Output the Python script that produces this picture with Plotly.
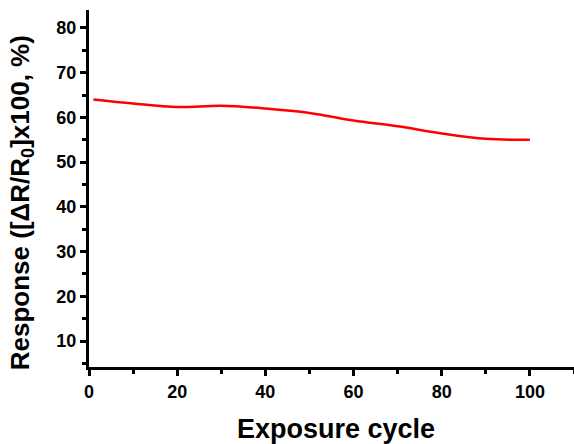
import plotly.graph_objects as go

# Response over repeated exposure cycles
cycles = [1, 10, 20, 30, 40, 50, 60, 70, 80, 90, 100]
response = [64.0, 63.1, 62.3, 62.6, 62.0, 61.0, 59.3, 58.0, 56.4, 55.2, 55.0]

x_ticks = [0, 20, 40, 60, 80, 100]
y_ticks = [10, 20, 30, 40, 50, 60, 70, 80]

x_title = "Exposure cycle"
y_title = "Response ([ΔR/R<sub>0</sub>]x100, %)"

font_family = "Liberation Sans, Arial, sans-serif"

fig = go.Figure(
    go.Scatter(
        x=cycles, y=response, mode="lines",
        line=dict(color="#ff0000", width=2.5, shape="spline", smoothing=1.0),
        showlegend=False,
    )
)

axis_common = dict(
    showgrid=False, zeroline=False,
    showline=True, linecolor="black", linewidth=3,
    ticks="outside", ticklen=6, tickwidth=2.5, tickcolor="black",
    tickfont=dict(family=font_family, size=18, color="black", weight="bold"),
    mirror=False,
)

fig.update_xaxes(
    **axis_common,
    range=[0, 110], tickvals=x_ticks,
    minor=dict(ticks="outside", ticklen=4, tickwidth=2.5, tickcolor="black", dtick=10, tick0=0),
)
fig.update_yaxes(
    **axis_common,
    range=[4.2, 84], tickvals=y_ticks,
    minor=dict(ticks="outside", ticklen=4, tickwidth=2.5, tickcolor="black", dtick=5, tick0=0),
)

# Axis titles placed as annotations for precise positioning
fig.add_annotation(
    text=x_title, xref="paper", yref="paper", x=0.509, y=-0.174,
    xanchor="center", yanchor="middle", showarrow=False,
    font=dict(family=font_family, size=27, color="black", weight="bold"),
)
fig.add_annotation(
    text=y_title, xref="paper", yref="paper", x=-0.140, y=0.459,
    xanchor="center", yanchor="middle", textangle=-90, showarrow=False,
    font=dict(family=font_family, size=26, color="black", weight="bold"),
)

fig.update_layout(
    width=574, height=444,
    margin=dict(l=89, r=0, t=10, b=77),
    plot_bgcolor="white", paper_bgcolor="white",
)

fig.write_html("out.html")
